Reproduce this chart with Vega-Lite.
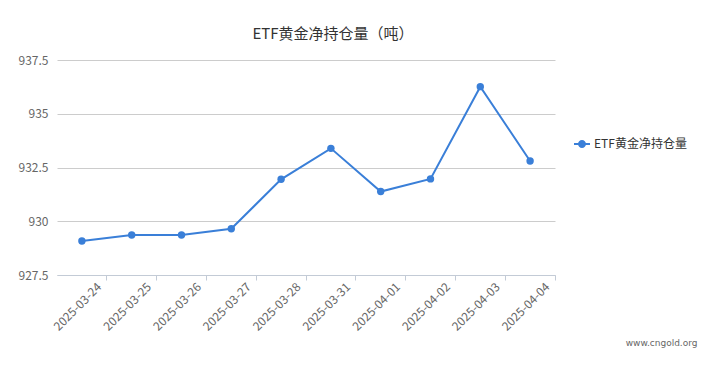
{
  "$schema": "https://vega.github.io/schema/vega-lite/v6.json",
  "autosize": {"type": "none"},
  "width": 498,
  "height": 215,
  "padding": {"left": 57, "top": 60, "right": 147, "bottom": 94},
  "background": "#ffffff",
  "title": {
    "text": "ETF黄金净持仓量（吨）",
    "font": "Noto Sans CJK SC",
    "fontSize": 15,
    "fontWeight": "normal",
    "color": "#333333",
    "anchor": "middle",
    "dx": 27,
    "offset": 12
  },
  "config": {
    "view": {"stroke": null},
    "font": "Noto Sans CJK SC"
  },
  "data": {
    "values": [
      {"date": "2025-03-24", "value": 929.08, "series": "ETF黄金净持仓量"},
      {"date": "2025-03-25", "value": 929.36, "series": "ETF黄金净持仓量"},
      {"date": "2025-03-26", "value": 929.36, "series": "ETF黄金净持仓量"},
      {"date": "2025-03-27", "value": 929.65, "series": "ETF黄金净持仓量"},
      {"date": "2025-03-28", "value": 931.95, "series": "ETF黄金净持仓量"},
      {"date": "2025-03-31", "value": 933.39, "series": "ETF黄金净持仓量"},
      {"date": "2025-04-01", "value": 931.38, "series": "ETF黄金净持仓量"},
      {"date": "2025-04-02", "value": 931.97, "series": "ETF黄金净持仓量"},
      {"date": "2025-04-03", "value": 936.26, "series": "ETF黄金净持仓量"},
      {"date": "2025-04-04", "value": 932.8, "series": "ETF黄金净持仓量"}
    ]
  },
  "encoding": {
    "x": {
      "field": "date",
      "type": "nominal",
      "sort": null,
      "scale": {"type": "band", "paddingInner": 0, "paddingOuter": 0},
      "axis": {
        "title": "www.cngold.org",
        "titleFont": "DejaVu Sans",
        "titleFontSize": 9,
        "titleFontWeight": "normal",
        "titleColor": "#666666",
        "titleAlign": "right",
        "titleAnchor": null,
        "titleX": 640,
        "titleY": 67,
        "titleBaseline": "middle",
        "labelAngle": -45,
        "labelFontSize": 12,
        "labelColor": "#666666",
        "labelFont": "Noto Sans CJK SC",
        "labelPadding": 1,
        "labelOffset": 14,
        "bandPosition": 1,
        "domainColor": "#c3cbd6",
        "tickColor": "#c3cbd6",
        "tickSize": 5,
        "grid": false
      }
    },
    "y": {
      "field": "value",
      "type": "quantitative",
      "scale": {"domain": [927.5, 937.5], "nice": false, "zero": false},
      "axis": {
        "title": null,
        "values": [927.5, 930, 932.5, 935, 937.5],
        "format": ".1~f",
        "domain": false,
        "ticks": false,
        "labelPadding": 9,
        "labelFontSize": 12,
        "labelColor": "#666666",
        "labelFont": "Noto Sans CJK SC",
        "gridColor": "#cccccc",
        "gridWidth": 1
      }
    },
    "color": {
      "field": "series",
      "type": "nominal",
      "scale": {"range": ["#3a7fd8"]},
      "legend": {
        "title": null,
        "orient": "none",
        "legendX": 517,
        "legendY": 76,
        "labelFontSize": 12,
        "labelColor": "#333333",
        "labelFont": "Noto Sans CJK SC",
        "labelOffset": 4,
        "symbolType": "M-1,-0.125H1V0.125H-1Z M0.5,0A0.5,0.5 0 1,1 -0.5,0A0.5,0.5 0 1,1 0.5,0Z",
        "symbolSize": 256,
        "symbolStrokeWidth": 0,
        "symbolFillColor": "#3a7fd8"
      }
    }
  },
  "layer": [
    {"mark": {"type": "line", "strokeWidth": 2}},
    {"mark": {"type": "point", "filled": true, "size": 55, "opacity": 1}}
  ]
}
